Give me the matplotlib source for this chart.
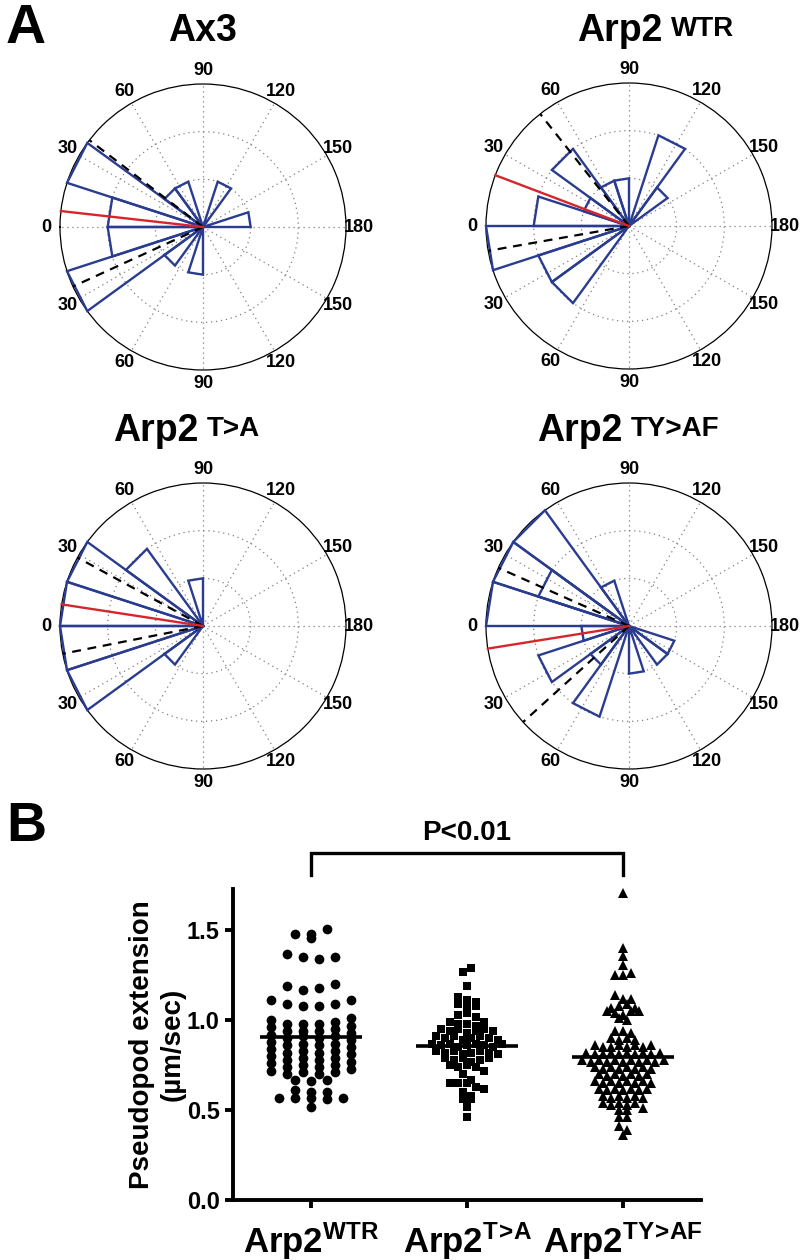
import numpy as np
import matplotlib
matplotlib.use('Agg')
import matplotlib.pyplot as plt

plt.rcParams['font.family'] = ['Liberation Sans', 'DejaVu Sans']
plt.rcParams['font.weight'] = 'bold'
plt.rcParams['mathtext.fontset'] = 'custom'
plt.rcParams['mathtext.rm'] = 'Liberation Sans:bold'
plt.rcParams['mathtext.bf'] = 'Liberation Sans:bold'
plt.rcParams['mathtext.it'] = 'Liberation Sans:bold'
plt.rcParams['mathtext.sf'] = 'Liberation Sans:bold'

# ---------------- Panel A data (rose histograms, 18 degree bins) ----------------
bin_width_deg = 18
theta_tick_deg = [0, 30, 60, 90, 120, 150, 180, 210, 240, 270, 300, 330]
theta_tick_labels = ['0', '30', '60', '90', '120', '150', '180', '150', '120', '90', '60', '30']
rose_rmax = 3

rose_titles = ['Ax3', 'Arp2', 'Arp2', 'Arp2']
rose_title_sup = ['', 'WTR', 'T>A', 'TY>AF']

ax3_counts = [2, 3, 1, 1, 0, 0, 1, 0, 0, 1, 0, 0, 0, 0, 0, 1, 0, 1, 3, 2]
wtr_counts = [2, 1, 2, 1, 1, 0, 2, 1, 0, 0, 0, 0, 0, 0, 0, 0, 0, 2, 2, 3]
ta_counts = [3, 3, 2, 0, 1, 0, 0, 0, 0, 0, 0, 0, 0, 0, 0, 0, 0, 1, 3, 3]
tyaf_counts = [3, 3, 3, 1, 0, 0, 0, 0, 0, 0, 0, 1, 1, 0, 1, 0, 2, 1, 2, 1]
tyaf_overlay = [0, 2, 0, 0, 0, 0, 0, 0, 0, 0, 0, 0, 0, 0, 0, 0, 0, 0, 0, 0]
empty_overlay = [0] * 20

mean_dir_deg = [6.4, 20.8, 8.7, -9.1]
sd_dir_deg = [31.0, 30.8, 19.9, 33.1]

# ---------------- Panel B data (pseudopod extension, um/sec) ----------------
group_labels = [r'Arp2$^{\mathbf{WTR}}$', r'Arp2$^{\mathbf{T\!>\!A}}$',
                r'Arp2$^{\mathbf{TY\!>\!AF}}$']

wtr_speed = [
    1.48, 1.46, 1.48, 1.51,
    1.37, 1.35, 1.34, 1.35,
    1.19, 1.17, 1.18, 1.20,
    1.11, 1.09, 1.08, 1.08, 1.09, 1.11,
    1.00, 0.98, 0.98, 0.98, 0.99, 1.01,
    0.96, 0.94, 0.94, 0.94, 0.95, 0.97,
    0.92, 0.90, 0.91, 0.90, 0.91, 0.93,
    0.88, 0.86, 0.87, 0.86, 0.87, 0.89,
    0.84, 0.82, 0.83, 0.82, 0.83, 0.85,
    0.80, 0.78, 0.79, 0.78, 0.79, 0.81,
    0.76, 0.74, 0.75, 0.74, 0.75, 0.77,
    0.72, 0.70, 0.71, 0.70, 0.71, 0.73,
    0.67, 0.66, 0.67,
    0.57, 0.61, 0.57, 0.60, 0.52, 0.57, 0.56, 0.60, 0.57,
]

ta_speed = [
    1.27, 1.29,
    1.19,
    1.13,
    1.09, 1.11, 1.08, 1.08, 1.10,
    1.03, 1.04, 1.02,
    0.99, 0.98, 0.98, 0.97, 0.99,
    0.95, 0.94, 0.95, 0.93, 0.94, 0.95, 0.94,
    0.91, 0.90, 0.91, 0.89, 0.90, 0.91, 0.90, 0.89,
    0.87, 0.86, 0.87, 0.85, 0.86, 0.87, 0.86, 0.85, 0.87,
    0.83, 0.82, 0.83, 0.81, 0.82, 0.83, 0.82, 0.81,
    0.79, 0.78, 0.79, 0.77, 0.78, 0.79,
    0.75, 0.74, 0.75, 0.74,
    0.72, 0.70,
    0.65, 0.67, 0.65, 0.65,
    0.63, 0.62, 0.60,
    0.56, 0.58, 0.56,
    0.52,
    0.46,
]

tyaf_speed = [
    1.71,
    1.40,
    1.36,
    1.31,
    1.25, 1.25, 1.26,
    1.14, 1.12, 1.12,
    1.07, 1.08, 1.09, 1.07,
    1.05, 1.04, 1.03, 1.05, 1.05,
    1.01, 1.00,
    0.94, 0.94, 0.93,
    0.90, 0.89, 0.90, 0.89,
    0.86, 0.85, 0.85, 0.86, 0.85, 0.86, 0.85, 0.86,
    0.82, 0.81, 0.81, 0.82, 0.81, 0.82, 0.81, 0.82, 0.81, 0.82,
    0.78, 0.77, 0.78, 0.77, 0.78, 0.77, 0.78, 0.77, 0.78, 0.77, 0.78,
    0.74, 0.73, 0.74, 0.73, 0.74, 0.73, 0.74, 0.73,
    0.70, 0.69, 0.70, 0.69, 0.70, 0.69, 0.70,
    0.66, 0.65, 0.66, 0.65, 0.66, 0.65, 0.66, 0.65,
    0.62, 0.61, 0.62, 0.61, 0.62, 0.61, 0.62,
    0.58, 0.57, 0.58, 0.57, 0.58, 0.57,
    0.54, 0.53, 0.54, 0.53, 0.54,
    0.50, 0.51, 0.50,
    0.46, 0.46,
    0.41, 0.39,
    0.36,
]

yticks_b = [0.0, 0.5, 1.0, 1.5]
p_text = 'P<0.01'

BLUE = '#2a3c8f'
RED = '#d7262b'

W, H = 812, 1260
fig = plt.figure(figsize=(W / 100, H / 100), dpi=100)


def rose(ax, counts, overlay, mean, sd):
    ax.set_theta_zero_location('W')
    ax.set_theta_direction(-1)
    ax.set_ylim(0, rose_rmax)
    ax.set_yticks([1, 2])
    ax.set_yticklabels([])
    ax.set_xticks(np.deg2rad(theta_tick_deg))
    ax.set_xticklabels(theta_tick_labels, fontsize=13, fontweight='bold')
    ax.tick_params(axis='x', pad=-1)
    ax.grid(True, color='#808080', linestyle=(0, (1, 3)), linewidth=0.9)
    ax.spines['polar'].set_color('black')
    ax.spines['polar'].set_linewidth(0.9)
    for arr in (counts, overlay):
        for k, c in enumerate(arr):
            if c > 0:
                t1 = np.deg2rad(k * bin_width_deg)
                t2 = np.deg2rad((k + 1) * bin_width_deg)
                ax.plot([0, t1, t2, 0], [0, c, c, 0], color=BLUE, lw=1.7,
                        solid_joinstyle='miter', clip_on=False, zorder=3)
    for s in (1, -1):
        ax.plot([0, np.deg2rad(mean + s * sd)], [0, rose_rmax], color='black',
                lw=1.6, dashes=(4, 3), clip_on=False, zorder=4)
    ax.plot([0, np.deg2rad(mean)], [0, rose_rmax], color=RED, lw=1.7,
            clip_on=False, zorder=5)


centers = [(203, 227), (629, 226), (203, 626), (629, 626)]
R = 143
all_counts = [ax3_counts, wtr_counts, ta_counts, tyaf_counts]
all_overlays = [empty_overlay, empty_overlay, empty_overlay, tyaf_overlay]
title_y = [31, 31, 431, 431]
title_left = [None, 577, 113, 537]

for i, (cx, cy) in enumerate(centers):
    ax = fig.add_axes([(cx - R) / W, 1 - (cy + R) / H, 2 * R / W, 2 * R / H],
                      projection='polar')
    rose(ax, all_counts[i], all_overlays[i], mean_dir_deg[i], sd_dir_deg[i])
    if rose_title_sup[i]:
        t = fig.text(title_left[i] / W, 1 - title_y[i] / H, rose_titles[i], fontsize=27,
                     fontweight='bold', ha='left', va='center')
        ax.annotate(rose_title_sup[i], xy=(1.0, 0.93), xycoords=t, xytext=(6, 0),
                    textcoords='offset points', fontsize=20, fontweight='bold',
                    ha='left', va='top', annotation_clip=False)
    else:
        fig.text(cx / W, 1 - title_y[i] / H, rose_titles[i], fontsize=27,
                 fontweight='bold', ha='center', va='center')

# ---------------- Panel B ----------------
axb = fig.add_axes([233 / W, (H - 1200) / H, 468 / W, (1200 - 889) / H])


def row_offsets(values, tol, dx):
    vals = np.asarray(values, dtype=float)
    order = np.argsort(-vals, kind='stable')
    offs = np.zeros(len(vals))
    assigned = np.zeros(len(vals), bool)
    for idx in order:
        if assigned[idx]:
            continue
        top = vals[idx]
        members = [j for j in range(len(vals)) if not assigned[j] and vals[j] >= top - tol]
        members.sort()
        n = len(members)
        for m, j in enumerate(members):
            offs[j] = (m - (n - 1) / 2) * dx
            assigned[j] = True
    return offs


groups = [wtr_speed, ta_speed, tyaf_speed]
markers = ['o', 's', '^']
msizes = [7.0, 6.4, 6.8]
spacings = [0.103, 0.056, 0.052]
for i, vals in enumerate(groups):
    offs = row_offsets(vals, 0.035, spacings[i])
    axb.plot(i + offs, vals, linestyle='none', marker=markers[i], markersize=msizes[i],
             color='black', markeredgewidth=0, clip_on=False, zorder=3)
    m = np.mean(vals)
    axb.hlines(m, i - 0.33, i + 0.33, color='black', lw=2.6, zorder=4)

axb.set_xlim(-0.5, 2.5)
axb.set_ylim(0, 1.73)
axb.set_yticks(yticks_b)
axb.set_yticklabels(['%.1f' % v for v in yticks_b], fontsize=17, fontweight='bold')
axb.set_xticks([0, 1, 2])
axb.set_xticklabels(group_labels, fontsize=25, fontweight='bold')
for s in ('top', 'right'):
    axb.spines[s].set_visible(False)
for s in ('left', 'bottom'):
    axb.spines[s].set_linewidth(2.8)
axb.tick_params(axis='both', direction='out', length=6, width=2.8)
axb.tick_params(axis='x', pad=9)
axb.set_ylabel('Pseudopod extension\n(µm/sec)', fontsize=20, fontweight='bold',
               labelpad=1, linespacing=1.25)

# significance bracket
axb.plot([0, 0, 2, 2], [1.81, 1.93, 1.93, 1.81], color='black', lw=2.4,
         clip_on=False, solid_joinstyle='miter')
axb.text(1, 1.97, p_text, ha='center', va='bottom', fontsize=20, fontweight='bold')

fig.text(6 / W, 1 - 3 / H, 'A', fontsize=40, fontweight='bold', va='top', ha='left')
fig.text(6 / W, 1 - 801 / H, 'B', fontsize=40, fontweight='bold', va='top', ha='left')

fig.savefig('out.png', dpi=100)
